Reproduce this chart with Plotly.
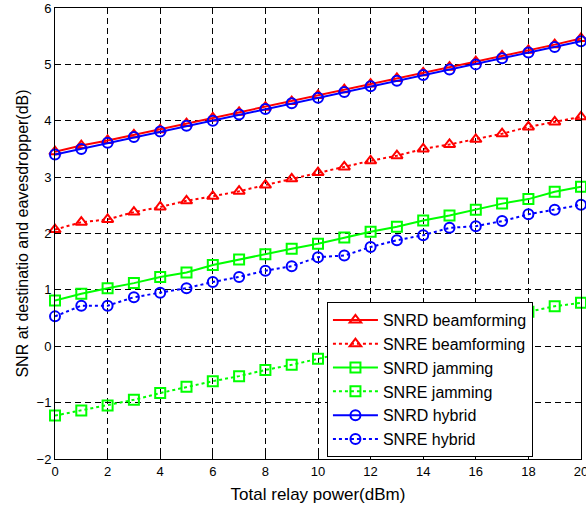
import plotly.graph_objects as go

power_dbm = list(range(0, 21))

snrd_beamforming = [3.45, 3.56, 3.65, 3.75, 3.84, 3.95, 4.05, 4.15, 4.24, 4.34, 4.45,
                    4.55, 4.65, 4.75, 4.85, 4.95, 5.05, 5.15, 5.25, 5.35, 5.46]
snre_beamforming = [2.07, 2.20, 2.25, 2.38, 2.47, 2.58, 2.66, 2.75, 2.86, 2.97, 3.08,
                    3.18, 3.29, 3.38, 3.50, 3.58, 3.67, 3.77, 3.89, 3.98, 4.07]
snrd_jamming = [0.81, 0.93, 1.03, 1.12, 1.23, 1.31, 1.44, 1.54, 1.63, 1.73, 1.82,
                1.93, 2.03, 2.12, 2.23, 2.32, 2.42, 2.53, 2.61, 2.74, 2.83]
snre_jamming = [-1.23, -1.14, -1.05, -0.95, -0.83, -0.72, -0.62, -0.53, -0.42, -0.33, -0.22,
                -0.12, -0.01, 0.09, 0.20, 0.30, 0.40, 0.51, 0.61, 0.71, 0.77]
snrd_hybrid = [3.40, 3.50, 3.61, 3.71, 3.81, 3.91, 4.00, 4.11, 4.21, 4.31, 4.41,
               4.51, 4.61, 4.71, 4.81, 4.91, 5.00, 5.11, 5.21, 5.31, 5.41]
snre_hybrid = [0.53, 0.72, 0.72, 0.87, 0.95, 1.03, 1.14, 1.23, 1.34, 1.42, 1.58,
               1.61, 1.76, 1.88, 1.97, 2.10, 2.13, 2.22, 2.34, 2.42, 2.51]

x_ticks = list(range(0, 21, 2))
y_ticks = list(range(-2, 7))

series = [
    ("SNRD beamforming", snrd_beamforming, "#FF0000", "solid", "triangle-up-open"),
    ("SNRE beamforming", snre_beamforming, "#FF0000", "dot", "triangle-up-open"),
    ("SNRD jamming", snrd_jamming, "#00FF00", "solid", "square-open"),
    ("SNRE jamming", snre_jamming, "#00FF00", "dot", "square-open"),
    ("SNRD hybrid", snrd_hybrid, "#0000FF", "solid", "circle-open"),
    ("SNRE hybrid", snre_hybrid, "#0000FF", "dot", "circle-open"),
]

fig = go.Figure()
for name, vals, color, dash, sym in series:
    fig.add_trace(go.Scatter(
        x=power_dbm, y=vals, name=name, mode="lines+markers",
        line=dict(color=color, width=2, dash=dash),
        marker=dict(symbol=sym, size=10, color=color, line=dict(width=2, color=color)),
        cliponaxis=False,
    ))

font_family = "Arial, Liberation Sans, sans-serif"
axis_common = dict(
    showline=True, linecolor="black", linewidth=1, mirror="ticks",
    ticks="inside", ticklen=5, tickcolor="black",
    showgrid=True, gridcolor="black", gridwidth=1, griddash="6px,4px",
    zeroline=False, ticklabeloverflow="allow",
    tickfont=dict(family=font_family, size=13, color="black"),
)

fig.update_layout(
    width=586, height=506,
    margin=dict(l=55, r=5, t=8, b=47, autoexpand=False),
    paper_bgcolor="white", plot_bgcolor="white",
    font=dict(family=font_family, color="black"),
    xaxis=dict(range=[0, 20], tickvals=x_ticks,
               title=dict(text="Total relay power(dBm)", font=dict(size=17), standoff=10),
               **axis_common),
    yaxis=dict(range=[-2, 6], tickvals=y_ticks,
               title=dict(text="SNR at destinatio and eavesdropper(dB)", font=dict(size=16), standoff=3),
               **axis_common),
    legend=dict(
        x=0.517, y=0.348, xanchor="left", yanchor="top",
        bgcolor="white", bordercolor="black", borderwidth=1,
        font=dict(family=font_family, size=16, color="black"),
        itemwidth=45, tracegroupgap=0,
    ),
    showlegend=True,
)

fig.write_html("out.html", post_script="document.body.style.margin='0px';",
               config={"displayModeBar": False})
